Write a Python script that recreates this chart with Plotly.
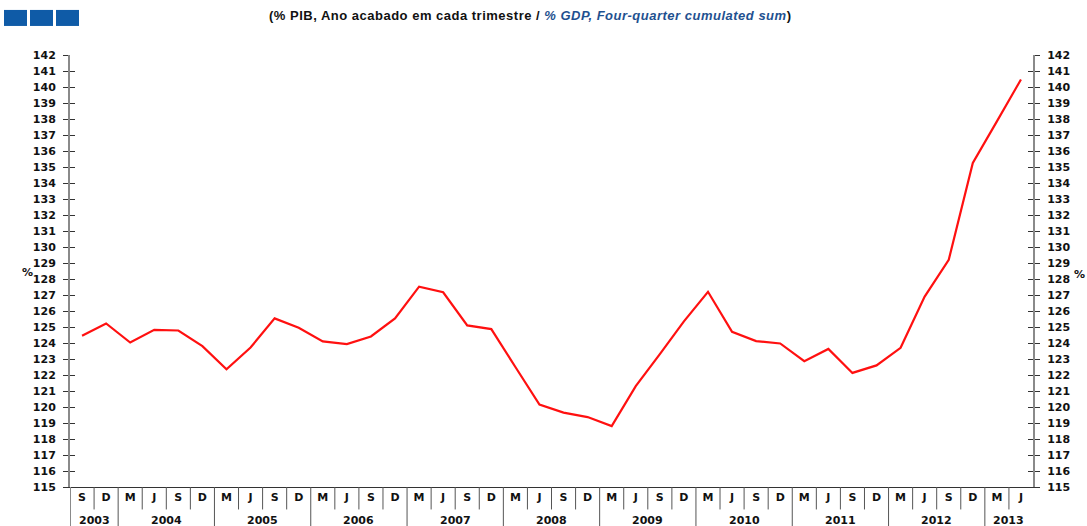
import plotly.graph_objects as go

# Quarter labels (end-of-quarter month initials) and their years
quarters = ["S", "D",
            "M", "J", "S", "D",
            "M", "J", "S", "D",
            "M", "J", "S", "D",
            "M", "J", "S", "D",
            "M", "J", "S", "D",
            "M", "J", "S", "D",
            "M", "J", "S", "D",
            "M", "J", "S", "D",
            "M", "J", "S", "D",
            "M", "J"]
years = [2003, 2003,
         2004, 2004, 2004, 2004,
         2005, 2005, 2005, 2005,
         2006, 2006, 2006, 2006,
         2007, 2007, 2007, 2007,
         2008, 2008, 2008, 2008,
         2009, 2009, 2009, 2009,
         2010, 2010, 2010, 2010,
         2011, 2011, 2011, 2011,
         2012, 2012, 2012, 2012,
         2013, 2013]

# Four-quarter cumulated sum, % of GDP
values = [124.45, 125.22,
          124.03, 124.82, 124.78, 123.80,
          122.36, 123.72, 125.54, 124.95,
          124.10, 123.93, 124.41, 125.54,
          127.52, 127.17, 125.10, 124.87,
          122.50, 120.15, 119.65, 119.37,
          118.81, 121.30, 123.30, 125.35,
          127.20, 124.70, 124.12, 123.97,
          122.86, 123.63, 122.13, 122.60,
          123.70, 126.90, 129.20, 135.25,
          137.85, 140.47]

y_ticks = list(range(115, 143))

idx = list(range(len(quarters)))

FONT = "DejaVu Sans, Arial, sans-serif"
TITLE_FONT = "Liberation Sans, Arial, sans-serif"
AXIS_GREY = "#8a8a8a"
TICK_COL = "#333333"

fig = go.Figure()
fig.add_trace(go.Scatter(
    x=idx, y=values, mode="lines",
    line=dict(color="#ff1010", width=2.2),
    hoverinfo="y", showlegend=False,
))
# invisible traces so the extra axes get drawn
for ax in ["y2", "y3", "y4"]:
    fig.add_trace(go.Scatter(x=[idx[0]], y=[values[0]], yaxis=ax, mode="markers",
                             marker=dict(opacity=0), hoverinfo="skip", showlegend=False))

yrange = [y_ticks[0], y_ticks[-1]]
common_y = dict(range=yrange, tickmode="array", tickvals=y_ticks,
                showgrid=False, zeroline=False, fixedrange=True,
                showline=True, linecolor=AXIS_GREY, linewidth=2,
                ticklen=5, tickwidth=1, tickcolor=TICK_COL,
                tickfont=dict(family=FONT, size=11, color="#111111"))

fig.update_layout(
    width=1087, height=526,
    margin=dict(l=70, r=54, t=55, b=39, pad=0),
    paper_bgcolor="white", plot_bgcolor="white",
    xaxis=dict(range=[-0.5, len(idx) - 0.5], tickmode="array", tickvals=idx,
               ticktext=[f"<b>{q}</b>" for q in quarters], ticks="",
               showgrid=False, zeroline=False, fixedrange=True,
               showline=True, linecolor="#333333", linewidth=1,
               tickfont=dict(family=FONT, size=11, color="#111111")),
    yaxis=dict(side="left", ticks="outside", ticklabelstandoff=5,
               ticktext=[f"<b>{v}</b>" for v in y_ticks], **common_y),
    yaxis2=dict(side="right", overlaying="y", ticks="outside", ticklabelstandoff=5,
                ticktext=[f"<b>{v}</b>" for v in y_ticks], **common_y),
    yaxis3=dict(side="left", overlaying="y", ticks="inside", showticklabels=False,
                ticktext=[""] * len(y_ticks), **common_y),
    yaxis4=dict(side="right", overlaying="y", ticks="inside", showticklabels=False,
                ticktext=[""] * len(y_ticks), **common_y),
)

# Header: title text and the three blue squares
fig.add_annotation(
    xref="paper", yref="paper", x=0.478, y=1.0, yshift=40, yanchor="middle",
    showarrow=False, font=dict(family=TITLE_FONT, size=13, color="#111111"),
    text="<span style='letter-spacing:0.5px'><b>(% PIB, Ano acabado em cada trimestre / "
         "<i><span style='color:#1f5190'>% GDP, Four-quarter cumulated sum</span></i>)</b></span>",
)
for k in range(3):
    fig.add_shape(type="rect", xref="paper", yref="paper",
                  x0=(4 + 26 * k - 70) / 963, x1=(27 + 26 * k - 70) / 963,
                  y0=1 + (55 - 26) / 431.4, y1=1 + (55 - 10) / 431.4,
                  fillcolor="#0f5ba7", line=dict(width=0), layer="above")

# "%" unit labels on both sides
fig.add_annotation(xref="paper", yref="y", x=0, xshift=-50, y=128.4, showarrow=False,
                   text="<b>%</b>", font=dict(family=FONT, size=11, color="#111111"))
fig.add_annotation(xref="paper", yref="y", x=1, xshift=40, xanchor="left", borderpad=0,
                   y=128.3, showarrow=False,
                   text="<b>%</b>", font=dict(family=FONT, size=11, color="#111111"))

# Category table under the x axis: quarter cells and year groups
q_bottom = -0.052
y_bottom = -0.12
fig.add_shape(type="line", xref="x", yref="paper", x0=-0.5, x1=-0.5, y0=0, y1=y_bottom,
              line=dict(color=AXIS_GREY, width=2))
for i in idx[1:]:
    new_year = years[i] != years[i - 1]
    fig.add_shape(type="line", xref="x", yref="paper", x0=i - 0.5, x1=i - 0.5,
                  y0=0, y1=y_bottom if new_year else q_bottom,
                  line=dict(color="#555555", width=1))

for yr in sorted(set(years)):
    members = [i for i in idx if years[i] == yr]
    fig.add_annotation(xref="x", yref="paper",
                       x=(members[0] + members[-1]) / 2, y=0, yshift=-33,
                       yanchor="middle", showarrow=False, text=f"<b>{yr}</b>",
                       font=dict(family=FONT, size=11, color="#111111"))

fig.write_html("out.html")
